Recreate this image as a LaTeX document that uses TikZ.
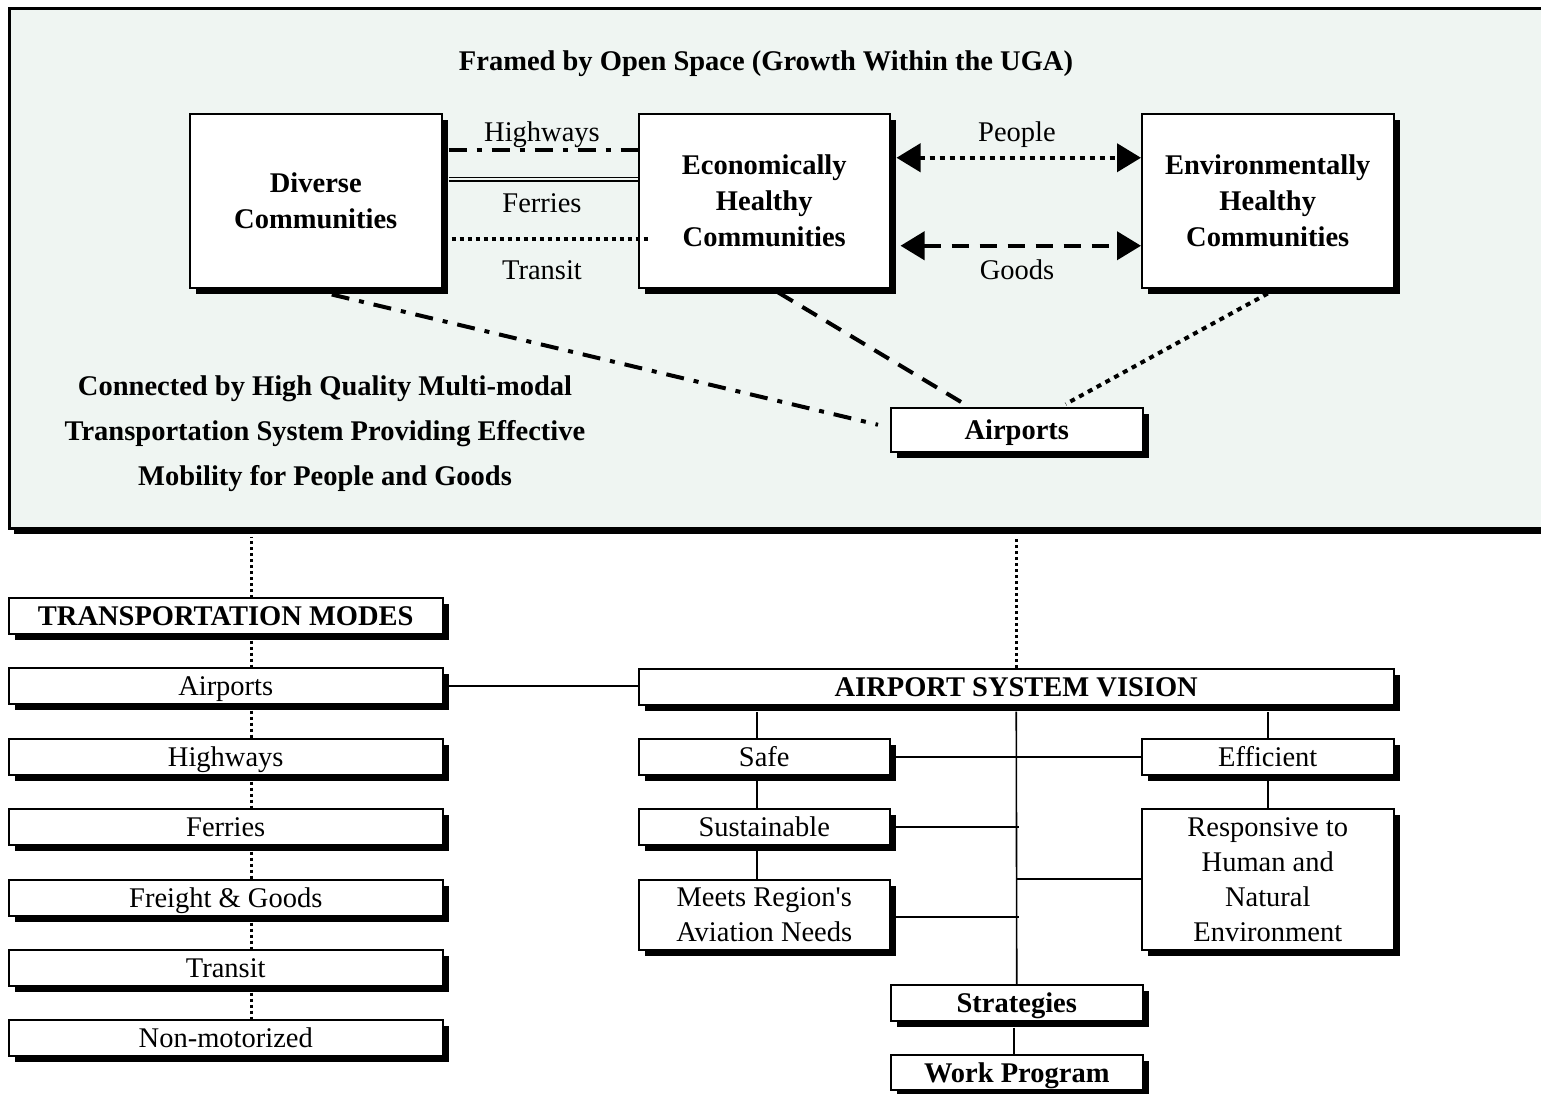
\documentclass[tikz,border=0pt]{standalone}
\usepackage{fontspec}
\setmainfont{Liberation Serif}
\usetikzlibrary{arrows.meta,shadows,calc}
\definecolor{framefill}{RGB}{239,245,242}
\begin{document}
\begin{tikzpicture}[x=1pt,y=-1pt,
  shad/.style={drop shadow={shadow xshift=6pt,shadow yshift=-6pt,fill=black,opacity=1}},
  box/.style={draw,line width=1.5pt,fill=white,anchor=north west,inner sep=0pt,align=center,
    font=\fontsize{28.5}{35}\selectfont,shad},
  bbox/.style={box,font=\fontsize{28.5}{36}\selectfont\bfseries},
  onel/.style={text depth=0pt},
  lbl/.style={font=\fontsize{28.5}{36}\selectfont,inner sep=0pt,text depth=0pt},
  dashdotline/.style={line width=4pt,dash pattern=on 18pt off 10pt on 5pt off 10pt},
  dashline/.style={line width=4pt,dash pattern=on 17pt off 11pt},
  dotline/.style={line width=4pt,dash pattern=on 5pt off 5pt},
  vdot/.style={line width=3pt,dash pattern=on 3pt off 3pt},
  solid line/.style={line width=1.6pt},
  both tips/.style={{Triangle[length=24pt,width=28pt]}-{Triangle[length=24pt,width=28pt]}}
]
\useasboundingbox (0,0) rectangle (1541,1093);
\fill[white] (0,0) rectangle (1541,1093);

% frame
\node[draw,line width=2.5pt,fill=framefill,anchor=north west,inner sep=0pt,
  minimum width=1560pt,minimum height=520pt,
  drop shadow={shadow xshift=5pt,shadow yshift=-6pt,fill=black,opacity=1}] (frame) at (8,7) {};

\node[lbl,font=\fontsize{28.5}{36}\selectfont\bfseries] (title) at (766,61) {Framed by Open Space (Growth Within the UGA)};

% top boxes
\node[bbox,minimum width=252pt,minimum height=174pt] (div) at (189,113) {\vphantom{y}Diverse\\Communities};
\node[bbox,minimum width=251pt,minimum height=174pt] (econ) at (638,113) {Economically\\Healthy\\Communities};
\node[bbox,minimum width=252pt,minimum height=174pt] (env) at (1141,113) {Environmentally\\Healthy\\Communities};
\node[bbox,onel,minimum width=252pt,minimum height=44pt] (ap) at (890,407) {Airports};

\node[lbl,font=\fontsize{28.5}{45}\selectfont\bfseries,align=center] (conn) at (325,431)
  {Connected by High Quality Multi-modal\\Transportation System Providing Effective\\Mobility for People and Goods};

% labels
\node[lbl] (lhw) at (542,132) {Highways};
\node[lbl] (lfe) at (542,203) {Ferries};
\node[lbl] (ltr) at (542,270) {Transit};
\node[lbl] (lpe) at (1017,132) {People};
\node[lbl] (lgo) at (1017,270) {Goods};

% connectors top
\draw[dashdotline] ([xshift=6pt,yshift=51pt]div.east) -- ([yshift=51pt]econ.west);
\draw[line width=1pt] ([xshift=6pt,yshift=23pt]div.east) -- ([yshift=23pt]econ.west);
\draw[line width=2.2pt] ([xshift=6pt,yshift=19.5pt]div.east) -- ([yshift=19.5pt]econ.west);
\draw[dotline,dash pattern=on 4pt off 4pt] ([xshift=9pt,yshift=-38pt]div.east) -- ([xshift=10pt,yshift=-38pt]econ.west);
\draw[dotline,both tips] ([xshift=6pt,yshift=43pt]econ.east) -- ([yshift=43pt]env.west);
\draw[dashline,both tips] ([xshift=10pt,yshift=-45pt]econ.east) -- ([yshift=-45pt]env.west);

\draw[dashdotline] ([xshift=16pt,yshift=-6pt]div.south) -- ([xshift=-12pt,yshift=5pt]ap.west);
\draw[dashline] ([xshift=14pt,yshift=-4pt]econ.south) -- ([xshift=-54pt,yshift=4pt]ap.north);
\draw[dotline] ([yshift=-5pt]env.south) -- ([xshift=49pt,yshift=3pt]ap.north);

% left column
\node[bbox,onel,minimum width=434pt,minimum height=36pt] (tm) at (8,597) {TRANSPORTATION MODES};
\node[box,onel,minimum width=434pt,minimum height=36pt] (lair) at (8,667) {Airports};
\node[box,onel,minimum width=434pt,minimum height=36pt] (lhwy) at (8,738) {Highways};
\node[box,onel,minimum width=434pt,minimum height=36pt] (lfer) at (8,808) {Ferries};
\node[box,onel,minimum width=434pt,minimum height=36pt] (lfre) at (8,879) {Freight \& Goods};
\node[box,onel,minimum width=434pt,minimum height=36pt] (ltra) at (8,949) {Transit};
\node[box,onel,minimum width=434pt,minimum height=36pt] (lnon) at (8,1019) {Non-motorized};

\draw[vdot] ([xshift=26pt,yshift=-1pt]tm.north) -- ([xshift=26pt,yshift=-7pt]tm.north |- frame.south);
\draw[vdot] ([xshift=26pt,yshift=-6pt]tm.south) -- ([xshift=26pt]lair.north);
\draw[vdot] ([xshift=26pt,yshift=-6pt]lair.south) -- ([xshift=26pt]lhwy.north);
\draw[vdot] ([xshift=26pt,yshift=-6pt]lhwy.south) -- ([xshift=26pt]lfer.north);
\draw[vdot] ([xshift=26pt,yshift=-6pt]lfer.south) -- ([xshift=26pt]lfre.north);
\draw[vdot] ([xshift=26pt,yshift=-6pt]lfre.south) -- ([xshift=26pt]ltra.north);
\draw[vdot] ([xshift=26pt,yshift=-6pt]ltra.south) -- ([xshift=26pt]lnon.north);

% right column
\node[bbox,onel,minimum width=755pt,minimum height=36pt] (vis) at (638,668) {AIRPORT SYSTEM VISION};
\node[box,onel,minimum width=251pt,minimum height=36pt] (safe) at (638,738) {Safe};
\node[box,onel,minimum width=252pt,minimum height=36pt] (eff) at (1141,738) {Efficient};
\node[box,onel,minimum width=251pt,minimum height=36pt] (sus) at (638,808) {Sustainable};
\node[box,minimum width=251pt,minimum height=70pt] (meets) at (638,879) {Meets Region\textquotesingle s\\Aviation Needs};
\node[box,minimum width=252pt,minimum height=141pt] (resp) at (1141,808) {Responsive to\\Human and\\Natural\\Environment};
\node[bbox,onel,minimum width=252pt,minimum height=36pt] (strat) at (890,984) {Strategies};
\node[bbox,onel,minimum width=252pt,minimum height=35pt] (work) at (890,1054) {Work Program};

\draw[vdot] (vis.north) -- ([yshift=-7pt]vis.north |- frame.south);
\draw[solid line] (lair.east) -- (lair.east -| vis.west);
\draw[solid line] ([xshift=-7pt]safe.north) -- ([xshift=-7pt,yshift=-6pt]safe.north |- vis.south);
\draw[solid line] (eff.north) -- ([yshift=-6pt]eff.north |- vis.south);
\draw[solid line] ([yshift=-6pt]vis.south) -- (strat.north);
\draw[solid line] (safe.east) -- (eff.west);
\draw[solid line] ([xshift=-7pt]safe.south) -- ([xshift=-7pt]sus.north);
\draw[solid line] ([xshift=-7pt]sus.south) -- ([xshift=-7pt]meets.north);
\draw[solid line] (sus.east) -- ([xshift=3pt]sus.east -| vis.south);
\draw[solid line] ([yshift=-2pt]meets.east) -- ([xshift=3pt,yshift=-2pt]meets.east -| vis.south);
\draw[solid line] (resp.west) -- (resp.west -| vis.south);
\draw[solid line] (eff.south) -- (resp.north);
\draw[solid line] ([xshift=-3pt,yshift=-6pt]strat.south) -- ([xshift=-3pt]work.north);
\end{tikzpicture}
\end{document}
